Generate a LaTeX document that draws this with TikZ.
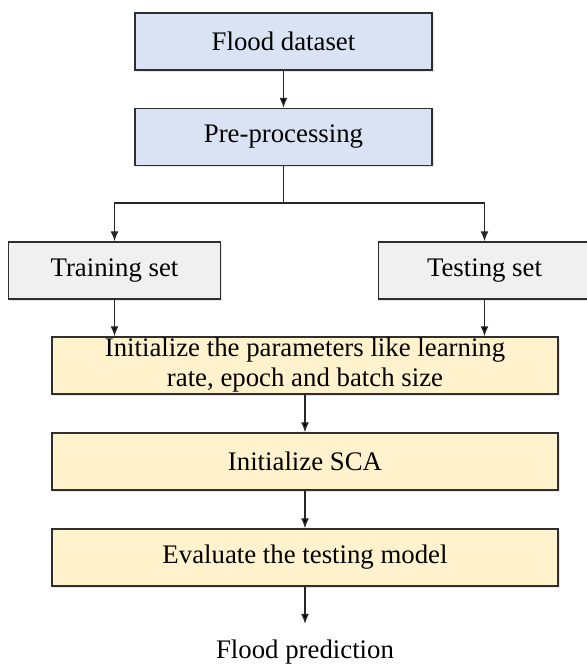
\documentclass[tikz,border=0pt]{standalone}
\usepackage{fontspec}
\setmainfont{Liberation Serif}
\usetikzlibrary{positioning, arrows.meta, shadows}

\definecolor{dataBlue}{HTML}{DAE3F3}
\definecolor{setGray}{HTML}{F0F0F0}
\definecolor{stepYellow}{HTML}{FFF2CC}
\definecolor{lineGray}{HTML}{2E2E2E}

\tikzset{
  box/.style={draw=lineGray, line width=0.75pt, minimum height=28.5pt, inner sep=0pt,
    align=center, font=\fontsize{13.4}{15}\selectfont,
    drop shadow={opacity=0.2, shadow xshift=0.8pt, shadow yshift=-0.8pt}},
  databox/.style={box, fill=dataBlue, minimum width=148.5pt},
  setbox/.style={box, fill=setGray, minimum width=106pt},
  stepbox/.style={box, fill=stepYellow, minimum width=253pt},
  flow/.style={-{Latex[length=5pt,width=4pt]}, line width=0.65pt, draw=black!85}
}

\begin{document}
\begin{tikzpicture}[x=0.5pt, y=-0.5pt, on grid, auto]
  \useasboundingbox (0,0) rectangle (587,666);
  \node[databox] (data) at (283.5,41.5) {Flood dataset};
  \node[databox] (pre) [below = 47.75pt of data] {Pre-processing};
  \node[setbox] (train) [below left = 66.75pt and 84.5pt of pre] {Training set};
  \node[setbox] (test) [below right = 66.75pt and 100.5pt of pre] {Testing set};
  \node[stepbox] (init) at (305,365.5) {Initialize the parameters like learning\\rate, epoch and batch size};
  \node[stepbox] (sca) [below = 48pt of init] {Initialize SCA};
  \node[stepbox] (eval) [below = 48pt of sca] {Evaluate the testing model};
  \node[font=\fontsize{13.4}{15}\selectfont] (out) [below = 47.25pt of eval] {Flood prediction};
  \coordinate (split) at (283.5,203);

  \path[flow]
    (data) edge (pre)
    (train) edge (train |- init.north)
    (test) edge (test |- init.north)
    (init) edge (sca)
    (sca) edge (eval)
    (eval) edge[shorten >=4.5pt] (out)
    ;
  \draw[line width=0.65pt, draw=black!85] (pre) -- (split);
  \draw[flow] (split) -| (train);
  \draw[flow] (split) -| (test);
\end{tikzpicture}
\end{document}
